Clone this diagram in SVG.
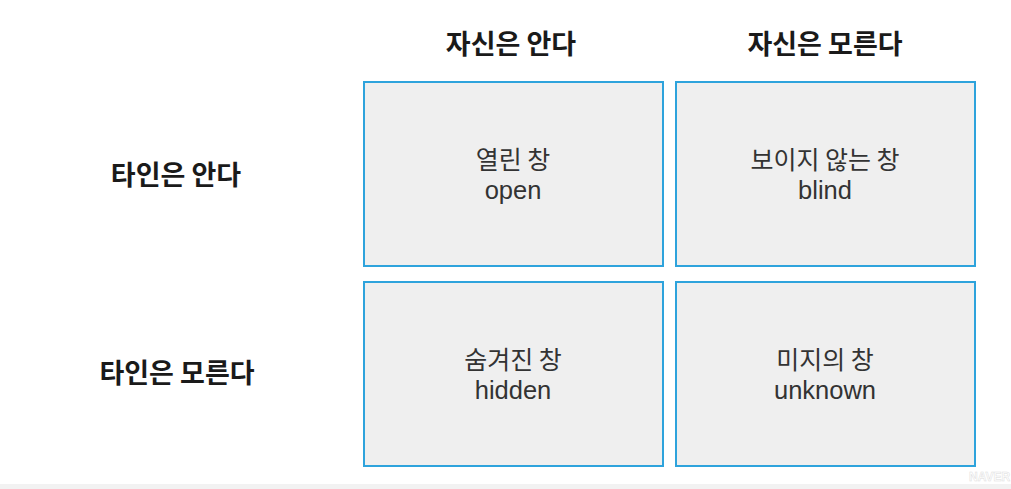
<svg xmlns="http://www.w3.org/2000/svg" width="1011" height="489" viewBox="0 0 1011 489">
<style>
.bg{fill:#ffffff}
.box{fill:#efefef;stroke:#2ea3dc;stroke-width:2}
.hdr{font-family:"Noto Sans CJK KR","Noto Sans",sans-serif;font-size:27px;font-weight:bold;fill:#1a1a1a;text-anchor:middle}
.lbl{font-family:"Noto Sans CJK KR","Noto Sans",sans-serif;font-size:25px;fill:#333333;text-anchor:middle}
.en{font-family:"Liberation Sans","Noto Sans",sans-serif;font-size:25.5px;fill:#333333;text-anchor:middle}
</style>
<rect class="bg" x="0" y="0" width="1011" height="489"/>
<rect x="0" y="484" width="1011" height="5" fill="#f2f2f2"/>
<g id="col-headers">
<text class="hdr" x="511" y="54">자신은 안다</text>
<text class="hdr" x="825" y="54">자신은 모른다</text>
</g>
<g id="row-headers">
<text class="hdr" x="176" y="185">타인은 안다</text>
<text class="hdr" x="177" y="383">타인은 모른다</text>
</g>
<g id="open">
<rect class="box" x="364" y="82" width="299" height="184"/>
<text class="lbl" x="513" y="169">열린 창</text>
<text class="en" x="513" y="199">open</text>
</g>
<g id="blind">
<rect class="box" x="676" y="82" width="299" height="184"/>
<text class="lbl" x="825" y="169">보이지 않는 창</text>
<text class="en" x="825" y="199">blind</text>
</g>
<g id="hidden">
<rect class="box" x="364" y="282" width="299" height="184"/>
<text class="lbl" x="513" y="369">숨겨진 창</text>
<text class="en" x="513" y="399">hidden</text>
</g>
<g id="unknown">
<rect class="box" x="676" y="282" width="299" height="184"/>
<text class="lbl" x="825" y="369">미지의 창</text>
<text class="en" x="825" y="399">unknown</text>
</g>
<g id="connectors"></g>
<text x="969" y="481" font-family="Liberation Sans,sans-serif" font-size="12" font-weight="bold" fill="#ffffff" stroke="#dddddd" stroke-width="0.5">NAVER</text>
</svg>
